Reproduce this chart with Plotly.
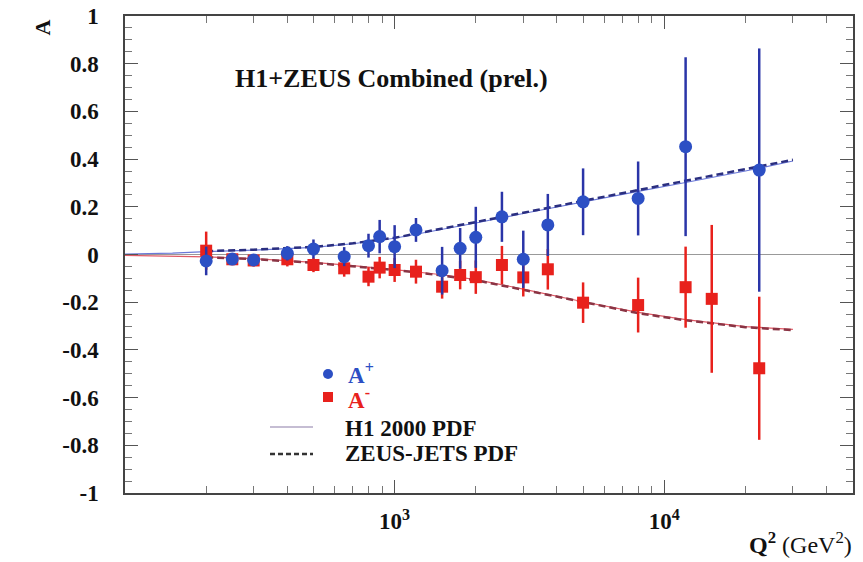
import plotly.graph_objects as go

# A+ (e+p) asymmetry points
q2_plus = [200, 250, 300, 400, 500, 650, 800, 880, 1000, 1200, 1500, 1750,
           2000, 2500, 3000, 3700, 5000, 8000, 12000, 22500]
a_plus = [-0.027, -0.019, -0.023, 0.005, 0.023, -0.009, 0.037, 0.075, 0.033,
          0.103, -0.068, 0.026, 0.072, 0.158, -0.020, 0.124, 0.221, 0.235,
          0.452, 0.354]
err_plus = [0.06, 0.025, 0.025, 0.03, 0.04, 0.04, 0.05, 0.07, 0.09, 0.05,
            0.10, 0.085, 0.128, 0.105, 0.12, 0.13, 0.14, 0.155, 0.375, 0.51]

# A- (e-p) asymmetry points
q2_minus = [200, 250, 300, 400, 500, 650, 800, 880, 1000, 1200, 1500, 1750,
            2000, 2500, 3000, 3700, 5000, 8000, 12000, 15000, 22500]
a_minus = [0.016, -0.020, -0.025, -0.020, -0.044, -0.058, -0.093, -0.055,
           -0.065, -0.072, -0.135, -0.086, -0.095, -0.044, -0.096, -0.062,
           -0.202, -0.212, -0.137, -0.186, -0.477]
err_minus = [0.08, 0.025, 0.025, 0.03, 0.03, 0.035, 0.04, 0.045, 0.05, 0.05,
             0.05, 0.06, 0.07, 0.08, 0.08, 0.085, 0.085, 0.115, 0.17, 0.31, 0.30]

# theory curves
q2_theory = [100, 150, 200, 300, 500, 700, 1000, 1500, 2000, 3000, 5000,
             8000, 12000, 20000, 30000]
h1_plus = [0.002, 0.006, 0.012, 0.018, 0.030, 0.045, 0.068, 0.105, 0.132,
           0.172, 0.222, 0.265, 0.302, 0.350, 0.392]
zeus_plus = [None, None, 0.014, 0.020, 0.032, 0.047, 0.070, 0.108, 0.135,
             0.175, 0.225, 0.270, 0.307, 0.356, 0.397]
h1_minus = [-0.004, -0.007, -0.010, -0.017, -0.033, -0.047, -0.063, -0.085,
            -0.105, -0.145, -0.198, -0.243, -0.273, -0.302, -0.314]
zeus_minus = [None, None, -0.012, -0.019, -0.035, -0.049, -0.065, -0.088,
              -0.108, -0.148, -0.200, -0.246, -0.276, -0.305, -0.317]

# axis ticks
x_tick_vals = [1000, 10000]
x_tick_text = ["10<sup>3</sup>", "10<sup>4</sup>"]
x_minor_vals = [200, 300, 400, 500, 600, 700, 800, 900,
                2000, 3000, 4000, 5000, 6000, 7000, 8000, 9000,
                20000, 30000, 40000]
y_tick_vals = [1, 0.8, 0.6, 0.4, 0.2, 0, -0.2, -0.4, -0.6, -0.8, -1]
y_tick_text = ["1", "0.8", "0.6", "0.4", "0.2", "0", "-0.2", "-0.4", "-0.6", "-0.8", "-1"]

FONT = "Liberation Serif"
BLUE = "#2c4fc4"
BLUE_ERR = "#2a35a8"
RED = "#e8211c"

# page offset (body margin) and plot area in page pixels
OFF = 8
W, H = 863 - OFF, 562 - OFF
L, R, T, B = 125, 853, 16, 493


def px(x, y):
    return (x - L) / (R - L), (B - y) / (B - T)


fig = go.Figure()

# theory curves
fig.add_trace(go.Scatter(x=q2_theory, y=h1_plus, mode="lines",
                         line=dict(color="#6a78d8", width=1.2), showlegend=False))
fig.add_trace(go.Scatter(x=q2_theory, y=h1_minus, mode="lines",
                         line=dict(color="#e05a66", width=1.2), showlegend=False))
fig.add_trace(go.Scatter(x=q2_theory, y=zeus_plus, mode="lines",
                         line=dict(color="#2b2f80", width=2.5, dash="7px,4px"),
                         showlegend=False))
fig.add_trace(go.Scatter(x=q2_theory, y=zeus_minus, mode="lines",
                         line=dict(color="#8a3444", width=2.5, dash="7px,4px"),
                         showlegend=False))

# data
fig.add_trace(go.Scatter(
    x=q2_minus, y=a_minus, mode="markers",
    marker=dict(symbol="square", size=12, color=RED),
    error_y=dict(type="data", array=err_minus, color=RED, thickness=2.5, width=0),
    showlegend=False))
fig.add_trace(go.Scatter(
    x=q2_plus, y=a_plus, mode="markers",
    marker=dict(symbol="circle", size=13, color=BLUE),
    error_y=dict(type="data", array=err_plus, color=BLUE_ERR, thickness=2.5, width=0),
    showlegend=False))

# hand-drawn legend
shapes = []
cx, cy = px(328, 374)
shapes.append(dict(type="circle", xref="paper", yref="paper", xsizemode="pixel",
                   ysizemode="pixel", xanchor=cx, yanchor=cy, x0=-5, x1=5, y0=-5, y1=5,
                   fillcolor=BLUE, line=dict(width=0)))
cx, cy = px(328, 397)
shapes.append(dict(type="rect", xref="paper", yref="paper", xsizemode="pixel",
                   ysizemode="pixel", xanchor=cx, yanchor=cy, x0=-5, x1=5, y0=-5, y1=5,
                   fillcolor=RED, line=dict(width=0)))
x0, y0 = px(270, 427)
x1, _ = px(313, 427)
shapes.append(dict(type="line", xref="paper", yref="paper", x0=x0, x1=x1, y0=y0, y1=y0,
                   line=dict(color="#8c7ca8", width=1.2)))
x0, y0 = px(270, 454)
shapes.append(dict(type="line", xref="paper", yref="paper", x0=x0, x1=x1, y0=y0, y1=y0,
                   line=dict(color="#333333", width=2.5, dash="5px,3px")))

annotations = []


def label(text, x, y, size, color="#111111", anchor="left", angle=0):
    ax, ay = px(x, y)
    annotations.append(dict(text=text, x=ax, y=ay, xref="paper", yref="paper",
                            xanchor=anchor, yanchor="middle", showarrow=False,
                            textangle=angle,
                            font=dict(family=FONT, size=size, color=color, weight="bold")))


label("H1+ZEUS Combined (prel.)", 233, 79, 26)
label("A<sup>+</sup>", 346, 373, 23, BLUE)
label("A<sup>-</sup>", 346, 398, 23, RED)
label("H1 2000 PDF", 343, 428, 23)
label("ZEUS-JETS PDF", 343, 453, 23)
label("A", 28, 28, 22, angle=-90)
label("Q<sup>2</sup> <span style='font-weight:normal'>(GeV<sup>2</sup>)</span>", 854, 543, 24,
      anchor="right")

fig.update_layout(
    width=W, height=H,
    margin=dict(l=L - OFF, r=W - (R - OFF), t=T - OFF, b=H - (B - OFF), autoexpand=False),
    paper_bgcolor="white", plot_bgcolor="white",
    shapes=shapes, annotations=annotations,
    xaxis=dict(
        type="log", range=[2, 4.7], automargin=False,
        tickmode="array", tickvals=x_tick_vals, ticktext=x_tick_text,
        ticks="inside", ticklen=13, tickwidth=1.2, tickcolor="#555",
        minor=dict(tickmode="array", tickvals=x_minor_vals, ticks="inside",
                   ticklen=7, tickwidth=1, tickcolor="#777"),
        showline=True, linecolor="#444", linewidth=1.5, mirror="ticks",
        showgrid=False, zeroline=False, ticklabelstandoff=7,
        ticklabeloverflow="allow",
        tickfont=dict(family=FONT, size=23, color="#111", weight="bold"),
    ),
    yaxis=dict(
        range=[-1, 1], automargin=False,
        tickmode="array", tickvals=y_tick_vals, ticktext=y_tick_text,
        ticks="inside", ticklen=13, tickwidth=1.2, tickcolor="#555",
        minor=dict(dtick=0.05, ticks="inside", ticklen=7, tickwidth=1, tickcolor="#777"),
        showline=True, linecolor="#444", linewidth=1.5, mirror="ticks",
        showgrid=False, zeroline=True, zerolinecolor="#999", zerolinewidth=1,
        ticklabelstandoff=20, ticklabeloverflow="allow",
        tickfont=dict(family=FONT, size=23, color="#111", weight="bold"),
    ),
)

fig.write_html("out.html")
